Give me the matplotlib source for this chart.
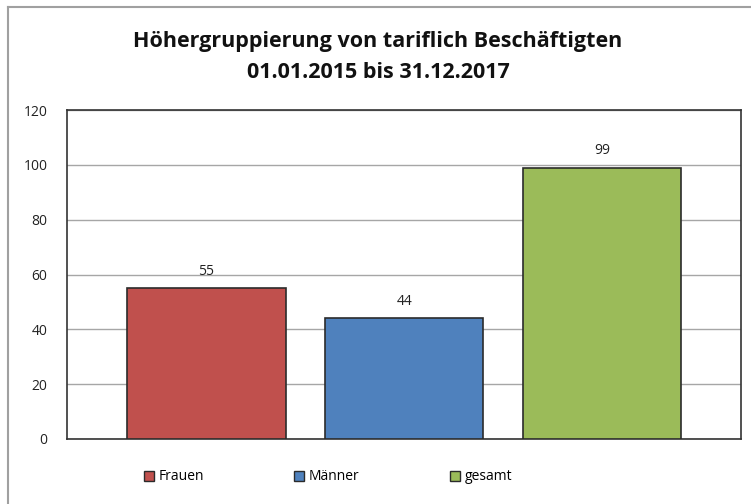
import matplotlib
matplotlib.use("Agg")
import matplotlib.pyplot as plt
from matplotlib.patches import Patch
from matplotlib.lines import Line2D

categories = ["Frauen", "Männer", "gesamt"]
values = [55, 44, 99]
colors = ["#C0504D", "#4F81BD", "#9BBB59"]
yticks = [0, 20, 40, 60, 80, 100, 120]
title_lines = ["Höhergruppierung von tariflich Beschäftigten", "01.01.2015 bis 31.12.2017"]

plt.rcParams['font.family'] = ['Open Sans', 'DejaVu Sans']

W, H = 751, 504
fig = plt.figure(figsize=(W/100, H/100), dpi=100)
fig.patch.set_facecolor("white")

def fx(px): return px / W
def fy(py): return 1 - py / H

ax = fig.add_axes([fx(67), fy(439), fx(741) - fx(67), fy(110) - fy(439)])
x = list(range(len(categories)))
ax.bar(x, values, width=0.8, color=colors, edgecolor="#2b2b2b", linewidth=1.2, zorder=3)
for xi, v in zip(x, values):
    ax.text(xi, v + 3.5, str(v), ha="center", va="bottom", fontsize=10, color="#222222")

ax.set_xlim(-0.705, 2.703)
ax.set_ylim(0, 120)
ax.set_yticks(yticks)
ax.set_yticklabels([str(t) for t in yticks], fontsize=10, color="#222222")
ax.set_xticks([])
ax.tick_params(axis="y", length=0, pad=14)
ax.yaxis.grid(True, color="#a6a6a6", linewidth=1.0, zorder=0)
for s in ax.spines.values():
    s.set_color("#333333")
    s.set_linewidth(1.2)

fig.text(fx(378), fy(41), title_lines[0], ha="center", va="center", fontsize=15.5,
         fontweight="bold", color="#111111")
fig.text(fx(378), fy(73), title_lines[1], ha="center", va="center", fontsize=15.5,
         fontweight="bold", color="#111111")

handles = [Patch(facecolor=c, edgecolor="#2b2b2b", linewidth=1.0) for c in colors]
fig.legend(handles, categories, loc="center", bbox_to_anchor=(fx(328), fy(477)), ncol=3,
           frameon=False, fontsize=10, handlelength=0.7, handleheight=0.7,
           handletextpad=0.35, columnspacing=6.5)

fig.lines.append(Line2D([fx(8), 1.0], [fy(7), fy(7)], transform=fig.transFigure,
                        color="#a0a0a0", linewidth=1.5))
fig.lines.append(Line2D([fx(8), fx(8)], [fy(7), 0.0], transform=fig.transFigure,
                        color="#a0a0a0", linewidth=1.5))

fig.savefig("out.png", dpi=100)
